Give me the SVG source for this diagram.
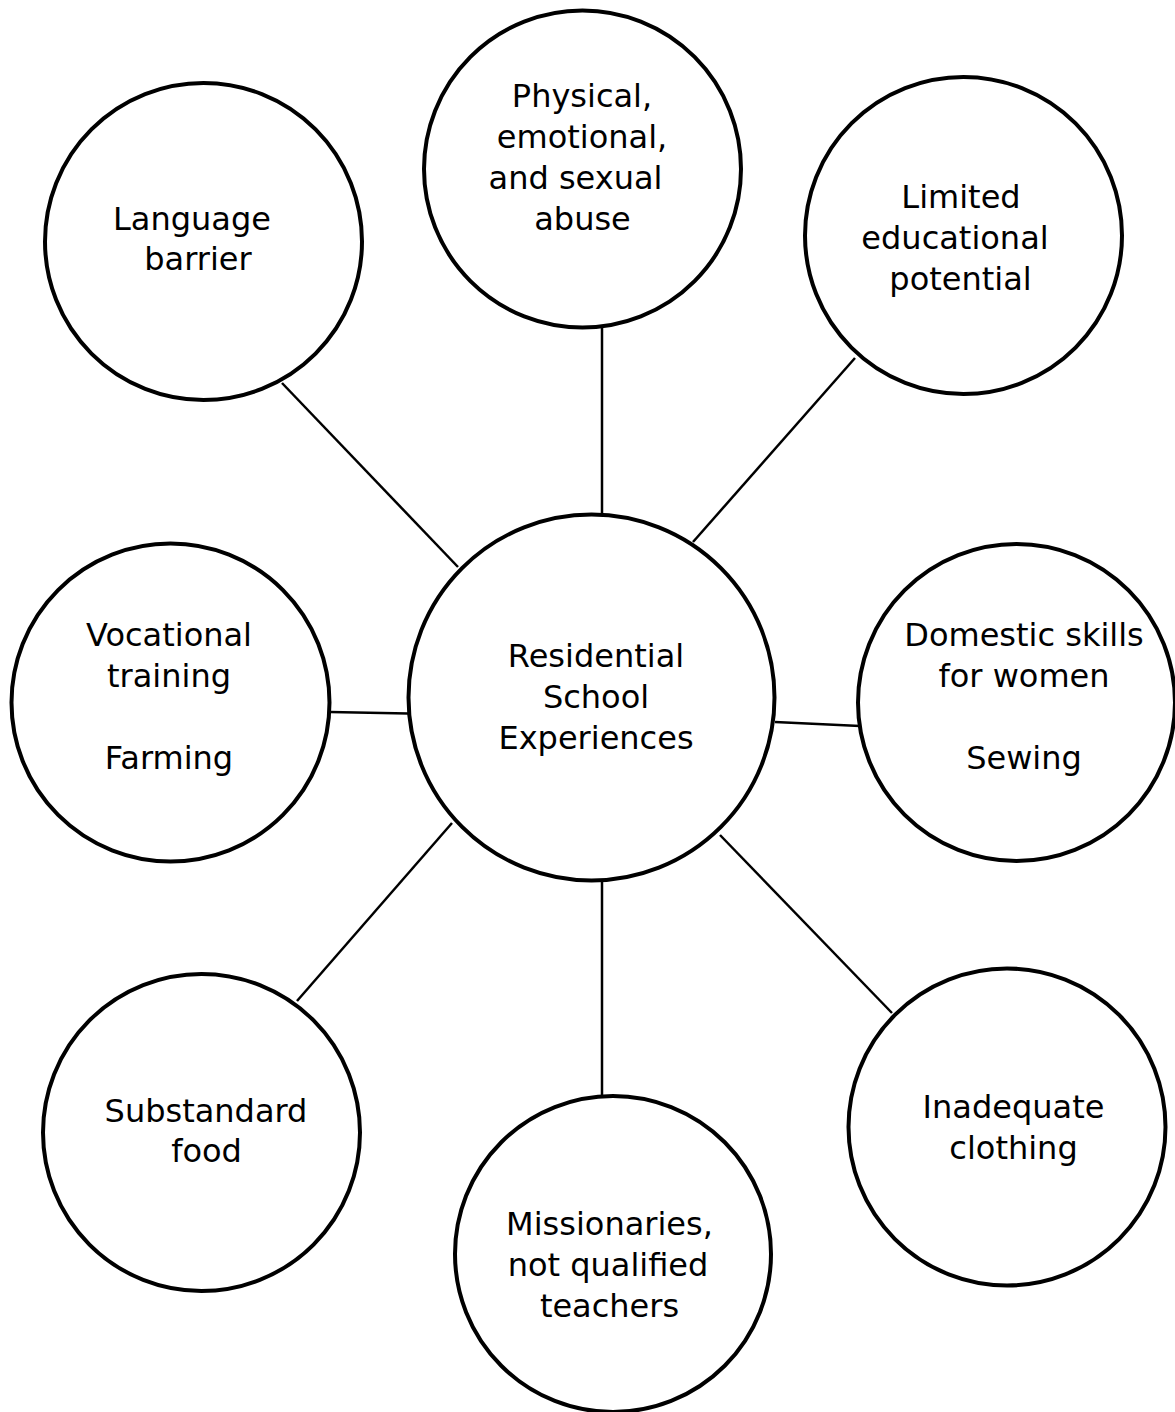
<svg xmlns="http://www.w3.org/2000/svg" width="1175" height="1412" viewBox="0 0 1175 1412">
<style>
.node circle{fill:#fff;stroke:#000;stroke-width:4}
.node text{font-family:"DejaVu Sans",Verdana,sans-serif;font-size:32px;fill:#000;text-anchor:middle}
.conn line{stroke:#000;stroke-width:2.5}
</style>
<rect width="1175" height="1412" fill="#fff"/>
<g id="connectors" class="conn">
<line x1="282" y1="383" x2="458" y2="567"/>
<line x1="602" y1="328" x2="602" y2="515"/>
<line x1="855" y1="358" x2="693" y2="542"/>
<line x1="330" y1="712" x2="408" y2="713.5"/>
<line x1="775" y1="722" x2="860" y2="726"/>
<line x1="452" y1="823" x2="297" y2="1001"/>
<line x1="602" y1="880" x2="602" y2="1096"/>
<line x1="720" y1="835" x2="892" y2="1013"/>
</g>
<g id="center" class="node">
<circle cx="591.5" cy="697.5" r="183"/>
<text x="596" y="667">Residential</text>
<text x="596" y="708">School</text>
<text x="596" y="749">Experiences</text>
</g>
<g id="language" class="node">
<circle cx="203.5" cy="241.5" r="158.5"/>
<text x="192" y="230">Language</text>
<text x="198" y="270">barrier</text>
</g>
<g id="abuse" class="node">
<circle cx="582.5" cy="169" r="158.5"/>
<text x="582" y="107">Physical,</text>
<text x="582" y="148">emotional,</text>
<text x="575.5" y="189">and sexual</text>
<text x="582.5" y="230">abuse</text>
</g>
<g id="limited" class="node">
<circle cx="963.5" cy="235.5" r="158.5"/>
<text x="961" y="208">Limited</text>
<text x="955" y="249">educational</text>
<text x="960.5" y="290">potential</text>
</g>
<g id="vocational" class="node">
<circle cx="170.5" cy="702.5" r="159"/>
<text x="169" y="646">Vocational</text>
<text x="169" y="687">training</text>
<text x="169" y="769">Farming</text>
</g>
<g id="domestic" class="node">
<circle cx="1016.5" cy="702.5" r="158.5"/>
<text x="1024" y="646">Domestic skills</text>
<text x="1024" y="687">for women</text>
<text x="1024" y="769">Sewing</text>
</g>
<g id="food" class="node">
<circle cx="201.5" cy="1132.5" r="158.5"/>
<text x="206" y="1122">Substandard</text>
<text x="206.5" y="1162">food</text>
</g>
<g id="missionaries" class="node">
<circle cx="613" cy="1254" r="158"/>
<text x="609.5" y="1235">Missionaries,</text>
<text x="608" y="1276">not qualified</text>
<text x="609.5" y="1317">teachers</text>
</g>
<g id="clothing" class="node">
<circle cx="1007" cy="1127" r="158.5"/>
<text x="1013.5" y="1118">Inadequate</text>
<text x="1013.5" y="1159">clothing</text>
</g>
</svg>
